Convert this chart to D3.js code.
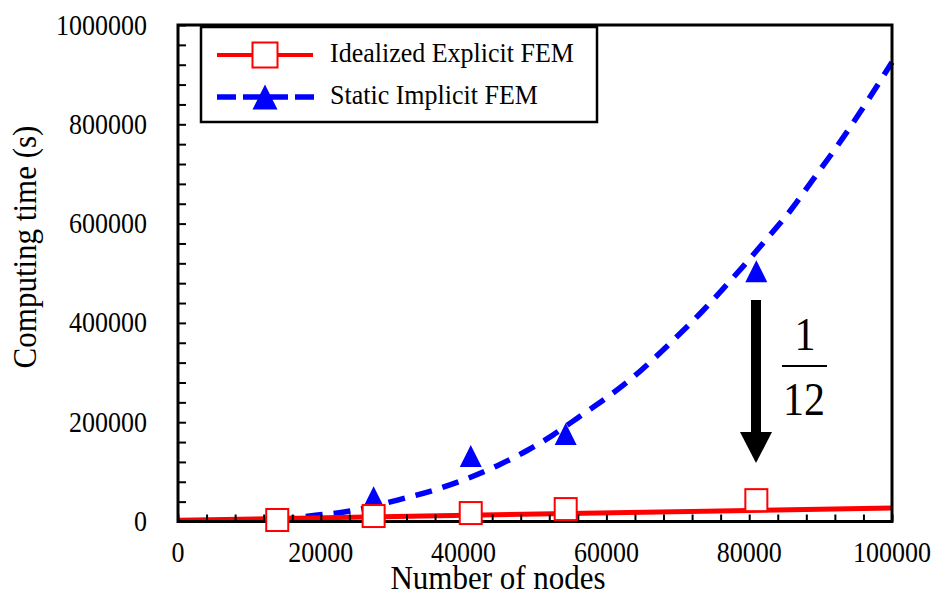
<!DOCTYPE html>
<html>
<head>
<meta charset="utf-8">
<script src="https://cdn.jsdelivr.net/npm/d3@7"></script>
<style>
  html, body { margin: 0; padding: 0; background: #fff; }
  svg { display: block; }
</style>
</head>
<body>
<svg id="chart" width="935" height="593"></svg>
<script>
// ---- data ----
const nodes = [13900, 27400, 41000, 54300, 81000];
const explicitTime = [3000, 11000, 17000, 25000, 43000];
const implicitTime = [2000, 49000, 132000, 176000, 504000];
// trend lines
const explicitFitX = [0, 100000];
const explicitFitY = [2600, 27000];
const implicitFitX = [14000, 19000, 23700, 31500, 36700, 40600, 44800, 48900, 52500, 56300, 60100, 63600, 66800, 70000, 73400, 76300, 79400, 82200, 85700, 88900, 93000, 100000];
const implicitFitY = [3000, 12000, 20000, 46000, 67000, 87000, 113000, 143000, 174000, 212000, 250000, 289000, 330000, 374000, 423000, 468000, 518000, 565000, 625000, 688000, 770000, 925000];
const xTicks = [0, 20000, 40000, 60000, 80000, 100000];
const yTicks = [0, 200000, 400000, 600000, 800000, 1000000];
const seriesNames = ["Idealized Explicit FEM", "Static Implicit FEM"];

// ---- layout ----
const FONT = "'Liberation Serif', 'Times New Roman', Times, 'DejaVu Serif', serif";
const svg = d3.select("#chart");
const x = d3.scaleLinear().domain([0, 100000]).range([178, 892]);
const y = d3.scaleLinear().domain([0, 1000000]).range([521.5, 25]);
const RED = "#ff0000", BLUE = "#0000ff";

function stext(g, str, tx, ty, size, anchor, sy, rot) {
  return g.append("text")
    .attr("transform", `translate(${tx},${ty})` + (rot ? ` rotate(${rot})` : "") + ` scale(1,${sy})`)
    .attr("text-anchor", anchor)
    .attr("font-family", FONT)
    .attr("font-size", size)
    .attr("fill", "#000")
    .text(str);
}

// ---- implicit fit (dashed) ----
const line = d3.line().x(d => x(d[0])).y(d => y(d[1])).curve(d3.curveMonotoneX);
svg.append("path")
  .datum(d3.zip(implicitFitX, implicitFitY))
  .attr("d", line)
  .attr("fill", "none").attr("stroke", BLUE).attr("stroke-width", 5.5)
  .attr("stroke-dasharray", "17,11");

// implicit markers
const tri = (cx, cy, h) => `M${cx},${cy - h / 2}L${cx + h / 2},${cy + h / 2}L${cx - h / 2},${cy + h / 2}Z`;
svg.append("g").selectAll("path")
  .data(d3.zip(nodes, implicitTime))
  .join("path")
  .attr("d", d => tri(x(d[0]), y(d[1]), 22))
  .attr("fill", BLUE);

// ---- explicit fit (solid) ----
svg.append("path")
  .datum(d3.zip(explicitFitX, explicitFitY))
  .attr("d", d3.line().x(d => x(d[0])).y(d => y(d[1])))
  .attr("fill", "none").attr("stroke", RED).attr("stroke-width", 5);

// ---- axes ----
const minorX = d3.range(0, 100001, 4000);
const minorY = d3.range(0, 1000001, 40000);
const gx = svg.append("g").attr("transform", `translate(0,${y(0)})`)
  .call(d3.axisBottom(x).tickValues(minorX).tickSize(-7).tickSizeOuter(0).tickFormat(""));
const gy = svg.append("g").attr("transform", `translate(${x(0)},0)`)
  .call(d3.axisLeft(y).tickValues(minorY).tickSize(-8).tickSizeOuter(0).tickFormat(""));
[gx, gy].forEach(g => {
  g.select(".domain").remove();
  g.selectAll(".tick line").attr("stroke", "#000").attr("stroke-width", 2);
});
// frame
svg.append("rect")
  .attr("x", x(0)).attr("y", y(1000000))
  .attr("width", x(100000) - x(0)).attr("height", y(0) - y(1000000))
  .attr("fill", "none").attr("stroke", "#000").attr("stroke-width", 3);

// explicit markers
svg.append("g").selectAll("rect")
  .data(d3.zip(nodes, explicitTime))
  .join("rect")
  .attr("x", d => x(d[0]) - 11).attr("y", d => y(d[1]) - 11)
  .attr("width", 22).attr("height", 22)
  .attr("fill", "#fff").attr("stroke", RED).attr("stroke-width", 2);

// tick labels
const labels = svg.append("g");
xTicks.forEach(v => stext(labels, String(v), x(v), 562, 26, "middle", 1.12));
yTicks.forEach(v => stext(labels, String(v), 147, y(v) + 9.5, 26, "end", 1.12));

// axis titles
stext(svg, "Number of nodes", 498, 589, 31, "middle", 1.1);
stext(svg, "Computing time (s)", 36, 247, 31, "middle", 1.1, -90);

// ---- arrow & ratio annotation ----
const ann = svg.append("g");
ann.append("rect").attr("x", 751).attr("y", 300).attr("width", 10).attr("height", 134).attr("fill", "#000");
ann.append("path").attr("d", "M740,432L772,432L756,463Z").attr("fill", "#000");
stext(ann, "1", 805, 350, 42, "middle", 1.12);
ann.append("line").attr("x1", 782).attr("x2", 827).attr("y1", 366).attr("y2", 366)
  .attr("stroke", "#000").attr("stroke-width", 2);
stext(ann, "12", 804, 415, 42, "middle", 1.12);

// ---- legend ----
const lg = svg.append("g");
lg.append("rect").attr("x", 201).attr("y", 27).attr("width", 396).attr("height", 95)
  .attr("fill", "#fff").attr("stroke", "#000").attr("stroke-width", 2.5);
lg.append("line").attr("x1", 217).attr("x2", 313).attr("y1", 55).attr("y2", 55)
  .attr("stroke", RED).attr("stroke-width", 4);
lg.append("rect").attr("x", 265 - 12.5).attr("y", 55 - 12.5).attr("width", 25).attr("height", 25)
  .attr("fill", "#fff").attr("stroke", RED).attr("stroke-width", 2);
lg.append("line").attr("x1", 217).attr("x2", 314).attr("y1", 97).attr("y2", 97)
  .attr("stroke", BLUE).attr("stroke-width", 5.5).attr("stroke-dasharray", "19,7");
lg.append("path").attr("d", tri(265, 97, 25)).attr("fill", BLUE);
stext(lg, seriesNames[0], 330, 62, 26, "start", 1.08);
stext(lg, seriesNames[1], 330, 104, 26, "start", 1.08);
</script>
</body>
</html>
